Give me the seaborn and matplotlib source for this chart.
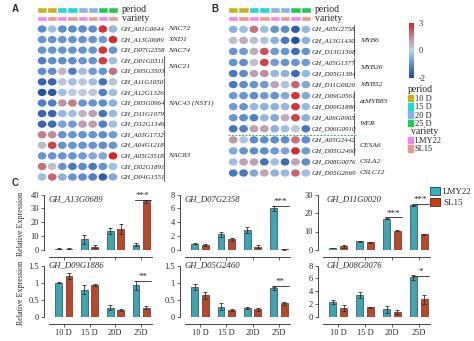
import numpy as np
import pandas as pd
import matplotlib
matplotlib.use("Agg")
import matplotlib.pyplot as plt
import matplotlib.transforms as mtransforms
import seaborn as sns
from matplotlib.colors import LinearSegmentedColormap, TwoSlopeNorm
from matplotlib.patches import Patch
from matplotlib.path import Path
from matplotlib.transforms import Affine2D

W, H = 474, 341

# ---------------- heatmap data ----------------
periods = ["10 D", "15 D", "20 D", "25 D"]
period_colors = ["#c8b11e", "#24d5dc", "#84b3f0", "#1fcb55"]
varieties = ["LMY22", "SL15"]
variety_colors = ["#f285ee", "#f0968c"]

genes_a = ["GH_A01G0644", "GH_A13G0689", "GH_D07G2358", "GH_D01G0311", "GH_D05G3503",
           "GH_A11G1050", "GH_A12G1326", "GH_D03G0964", "GH_D11G1079", "GH_D12G1346",
           "GH_A03G1732", "GH_A04G1218", "GH_A05G3518", "GH_D02G1891", "GH_D04G1551"]
expr_a = [
    [-1.0, -0.3, -1.0, -1.0, -1.0, -1.0, 2.7, -0.4],
    [-0.9, -0.9, -0.9, -0.9, -0.9, -0.9, -0.8, 2.8],
    [-0.9, -0.9, -0.9, -0.9, -0.9, -0.9, 2.7, -0.9],
    [-1.2, -1.0, -1.0, -1.0, -0.9, -0.9, 2.6, -0.3],
    [-1.0, -1.0, 0.6, -1.2, -0.3, -0.8, -0.9, 1.8],
    [-1.6, -1.6, 0.3, -0.3, 0.3, -0.3, -1.4, 0.3],
    [-1.9, -1.8, -0.3, -0.1, 0.2, 0.3, -1.2, -0.3],
    [-1.2, -1.2, 1.2, 1.6, -0.9, -0.9, -1.0, -0.5],
    [-1.6, -1.6, -0.4, -0.3, 0.6, 1.0, -1.4, -0.4],
    [-1.6, -1.5, -0.7, -0.8, 1.1, 1.1, -1.2, -0.3],
    [1.6, 1.4, -0.9, -0.9, -0.9, -0.9, -1.0, -0.8],
    [0.5, 2.5, -0.9, -0.9, -0.9, -0.9, -1.0, -0.9],
    [-0.9, -0.9, -0.9, -0.9, -0.8, -0.6, -0.6, 2.9],
    [1.8, 0.4, -0.9, -1.3, -1.0, -1.3, -0.9, -0.3],
    [-0.3, 2.0, -0.5, -0.9, -1.0, -1.2, -1.7, -0.6],
]
families_a = ["NAC72", "XND1", "NAC74", "NAC21", "NAC43 (NST1)", "NAC83"]
family_rows_a = [(0, 0), (1, 1), (2, 2), (3, 4), (5, 9), (10, 14)]

genes_b = ["GH_A05G2758", "GH_A13G1430", "GH_D13G1368", "GH_A05G1377", "GH_D05G1384",
           "GH_D11G0020", "GH_D09G0561", "GH_D09G1886", "GH_A06G0905", "GH_D06G0910",
           "GH_A05G2442", "GH_D05G2460", "GH_D08G0076", "GH_D05G2669"]
expr_b = [
    [-0.5, -0.3, 1.8, -0.3, -0.9, -1.0, -1.7, -0.4],
    [0.4, 0.8, 0.4, -0.2, -0.5, -1.3, -1.9, -0.5],
    [-0.9, -0.8, 0.8, 2.3, -0.8, -0.9, -1.5, -0.9],
    [-0.9, -1.0, 0.4, 2.5, -0.8, -0.9, -0.9, -0.8],
    [-1.3, -1.0, 1.0, 1.3, -0.4, -0.5, -1.5, -0.4],
    [-1.3, -1.0, -0.9, -0.8, 0.9, -0.2, 2.0, -0.6],
    [-0.8, -0.9, -1.0, -0.8, -0.9, -0.6, 2.7, -0.6],
    [-0.8, -0.9, -0.4, -0.5, -0.5, -0.4, 2.7, -0.4],
    [-0.9, -1.0, -1.2, -0.4, -0.6, 0.8, 2.5, -0.5],
    [-1.4, -1.2, 1.0, 1.0, -0.5, -0.3, 0.2, -1.3],
    [1.2, -0.2, -1.0, -1.0, -1.0, -1.0, 1.8, -1.0],
    [-0.6, -0.9, -1.0, -1.0, -0.8, -0.7, 2.8, -0.8],
    [-0.3, 1.0, 1.0, -1.4, -0.3, -1.5, 0.9, -1.0],
    [-1.3, -1.3, -0.6, 0.9, -0.5, -0.4, 2.0, -0.3],
]
families_b = ["MYB6", "MYB26", "MYB52", "atMYB85", "WER", "CESA6", "CSLA2", "CSLC12"]
family_rows_b = [(0, 2), (3, 4), (5, 5), (6, 7), (8, 9), (10, 11), (12, 12), (13, 13)]

# ---------------- qRT-PCR data ----------------
bar_genes = ["GH_A13G0689", "GH_D07G2358", "GH_D11G0020",
             "GH_D09G1886", "GH_D05G2460", "GH_D08G0076"]
bar_periods = ["10 D", "15 D", "20D", "25D"]
lmy22_mean = [[0.8, 7.7, 13.7, 3.8], [0.92, 2.25, 2.9, 6.0], [1.0, 4.6, 17.0, 24.2],
              [1.0, 0.8, 0.27, 0.92], [0.88, 0.29, 0.26, 0.83], [2.3, 3.35, 1.15, 6.15]]
lmy22_err = [[0.3, 3.2, 2.5, 1.2], [0.1, 0.35, 0.4, 0.35], [0.15, 0.5, 0.3, 0.3],
             [0.01, 0.14, 0.07, 0.13], [0.08, 0.1, 0.02, 0.03], [0.35, 0.45, 0.5, 0.35]]
sl15_mean = [[0.8, 2.4, 15.0, 35.0], [0.72, 1.55, 0.5, 0.1], [1.9, 4.1, 10.4, 8.6],
             [1.19, 0.92, 0.19, 0.27], [0.63, 0.21, 0.22, 0.39], [1.35, 1.45, 0.8, 2.7]]
sl15_err = [[0.3, 1.2, 3.8, 1.2], [0.1, 0.2, 0.2, 0.05], [0.6, 0.3, 0.3, 0.3],
            [0.09, 0.03, 0.03, 0.04], [0.11, 0.03, 0.05, 0.05], [0.45, 0.1, 0.3, 0.75]]
y_max = [40, 8, 30, 1.5, 1.5, 8]
y_step = [10, 2, 10, 0.5, 0.5, 2]
sig_marks = [[(3, "***", 35.8)], [(3, "***", 6.35)], [(2, "***", 17.6), (3, "***", 24.8)],
             [(3, "**", 1.04)], [(3, "**", 0.9)], [(3, "*", 6.45)]]
bar_colors = ["#29b5c6", "#d5380f"]

# ---------------- style ----------------
sns.set_style("ticks")
plt.rcParams["font.family"] = ["Liberation Serif", "DejaVu Serif"]
plt.rcParams["axes.linewidth"] = 0.6

cmap = LinearSegmentedColormap.from_list(
    "expr", [(0.0, "#1f4c9a"), (0.25, "#5b8dd0"), (0.5, "#bdd3e8"),
             (0.75, "#bf8795"), (1.0, "#da1f1f")])
norm = TwoSlopeNorm(vmin=-2, vcenter=0, vmax=3)
ellipse = Path.unit_circle().transformed(Affine2D().scale(1.2, 1.0))

fig = plt.figure(figsize=(W / 100, H / 100), dpi=100)


def px_axes(left, top, right, bottom):
    return fig.add_axes([left / W, 1 - bottom / H, (right - left) / W, (bottom - top) / H])


def draw_heatmap(x0, x1, r0, r1, genes, expr, families, family_rows,
                 label_px, bracket_px, family_px):
    ax = px_axes(x0, 0, x1, 186)
    n = len(genes)
    step = (r1 - r0) / (n - 1)
    cells = pd.DataFrame({"col": np.tile(np.arange(8), n),
                          "row": np.repeat(np.arange(n), 8),
                          "value": np.ravel(expr)})
    sns.scatterplot(data=cells, x="col", y="row", hue="value", palette=cmap,
                    hue_norm=norm, marker=ellipse, s=40, linewidth=0,
                    legend=False, ax=ax)
    cols = np.arange(8)
    ax.bar(cols, 5.4 / step, bottom=(7.2 - r0) / step, width=1.0,
           color=[period_colors[c // 2] for c in cols])
    ax.bar(cols, 5.4 / step, bottom=(16.0 - r0) / step, width=1.0,
           color=[variety_colors[c % 2] for c in cols])
    ax.set_xlim(-0.5, 7.5)
    ax.set_ylim(n - 1 + (186 - r1) / step, -r0 / step)
    ax.axis("off")

    blend = mtransforms.blended_transform_factory(fig.transFigure, ax.transData)
    ax.text((x1 + 4) / W, (9.9 - r0) / step, "period", transform=blend,
            fontsize=7, va="center", ha="left")
    ax.text((x1 + 4) / W, (18.7 - r0) / step, "variety", transform=blend,
            fontsize=7, va="center", ha="left")
    for i, g in enumerate(genes):
        ax.text(label_px / W, i, g, transform=blend, fontsize=5.0, style="italic",
                va="center", ha="left", color="#222222")
    for fam, (ra, rb) in zip(families, family_rows):
        ax.text(family_px / W, (ra + rb) / 2, fam, transform=blend, fontsize=5.4,
                style="italic", va="center", ha="left", color="#222222")
        if rb > ra:
            ax.plot([bracket_px / W] * 2, [ra - 0.4, rb + 0.4], transform=blend,
                    color="#444444", lw=0.6, clip_on=False)
    return ax, blend


draw_heatmap(37, 118, 29, 177, genes_a, expr_a, families_a, family_rows_a,
             121, 163.5, 168)
ax_b, blend_b = draw_heatmap(228, 311, 29.3, 173, genes_b, expr_b, families_b,
                             family_rows_b, 312, 354.3, 360)
ax_b.plot([227.7 / W, 356.7 / W], [9.55, 9.55], transform=blend_b, color="#3bb54a",
          lw=0.7, ls=(0, (2, 1.5)), clip_on=False)

# colour bar
cax = px_axes(409.3, 22.7, 414.3, 78)
sm = plt.cm.ScalarMappable(norm=norm, cmap=cmap)
cb = fig.colorbar(sm, cax=cax, ticks=[-2, 0, 3])
cb.ax.set_yticklabels(["-2", "0", "3"])
cb.outline.set_visible(False)
cax.tick_params(length=0, labelsize=6, pad=3)

leg_p = fig.legend(handles=[Patch(color=c, label=p) for c, p in zip(period_colors, periods)],
                   title="period", loc="upper left", bbox_to_anchor=(408 / W, 1 - 85.5 / H),
                   frameon=False, fontsize=6, title_fontsize=7, handlelength=0.6,
                   handleheight=0.9, labelspacing=0.0, handletextpad=0.2,
                   borderpad=0, borderaxespad=0)
leg_p._legend_box.align = "left"
leg_v = fig.legend(handles=[Patch(color=c, label=v) for c, v in zip(variety_colors, varieties)],
                   title="variety", loc="upper left", bbox_to_anchor=(408 / W, 1 - 127.5 / H),
                   frameon=False, fontsize=6, title_fontsize=7, handlelength=0.6,
                   handleheight=0.9, labelspacing=0.0, handletextpad=0.2,
                   borderpad=0, borderaxespad=0)

# ---------------- bar charts ----------------
col_px = [(49, 152), (185, 290), (323, 430)]
row_px = [(194.5, 250.0), (265.7, 316.7)]
for k, gene in enumerate(bar_genes):
    r, c = divmod(k, 3)
    ax = px_axes(col_px[c][0], row_px[r][0], col_px[c][1], row_px[r][1])
    df = pd.DataFrame({"period": bar_periods * 2,
                       "variety": ["LMY22"] * 4 + ["SL15"] * 4,
                       "value": lmy22_mean[k] + sl15_mean[k]})
    sns.barplot(data=df, x="period", y="value", hue="variety", palette=bar_colors,
                width=0.8, gap=0.35, edgecolor="#1a1a1a", linewidth=0.4,
                errorbar=None, legend=False, ax=ax)
    for cont, errs in zip(ax.containers, [lmy22_err[k], sl15_err[k]]):
        xs = [b.get_x() + b.get_width() / 2 for b in cont]
        ys = [b.get_height() for b in cont]
        ax.errorbar(xs, ys, yerr=errs, fmt="none", ecolor="#303030",
                    elinewidth=0.6, capsize=1.3, capthick=0.6)
    for g, stars, yl in sig_marks[k]:
        ax.plot([g - 0.25, g + 0.38], [yl, yl], color="#222222", lw=0.6, clip_on=False)
        ax.text(g + 0.06, yl, stars, ha="center", va="bottom", fontsize=6.5,
                clip_on=False, linespacing=0.5)
    ax.set_xlim(-0.57, 3.42)
    ax.set_ylim(0, y_max[k])
    ticks = np.arange(0, y_max[k] + 1e-9, y_step[k])
    ax.set_yticks(ticks)
    ax.set_yticklabels(["%g" % t for t in ticks])
    ax.set_xlabel("")
    ax.set_ylabel("")
    ax.tick_params(axis="both", length=2, width=0.5, labelsize=6, pad=1.5)
    if r == 0:
        ax.set_xticklabels([])
    sns.despine(ax=ax, offset={"left": 3.8, "bottom": 5.0})
    ty = 0.92 if r == 0 else 1.0
    ax.text(0.0 if c < 2 else 0.03, ty, gene, transform=ax.transAxes, fontsize=6.2,
            style="italic", va="center", ha="left")
    if c == 0:
        ax.set_ylabel("Relative Expression", fontsize=5.8)
        ax.yaxis.set_label_coords(-0.235, 0.47)

fig.legend(handles=[Patch(facecolor=bar_colors[0], edgecolor="#1a1a1a", lw=0.5, label="LMY22"),
                    Patch(facecolor=bar_colors[1], edgecolor="#1a1a1a", lw=0.5, label="SL15")],
           loc="upper left", bbox_to_anchor=(430 / W, 1 - 187 / H), frameon=False,
           fontsize=6.5, handlelength=1.1, handleheight=1.0, labelspacing=0.2,
           handletextpad=0.35, borderpad=0, borderaxespad=0)

# panel letters
for letter, (x, y) in zip("ABC", [(15, 9.5), (215, 9.5), (15, 183.5)]):
    fig.text(x / W, 1 - y / H, letter, fontsize=7, fontweight="bold",
             family="Liberation Sans", ha="center", va="center")

fig.savefig("out.png", dpi=100)
